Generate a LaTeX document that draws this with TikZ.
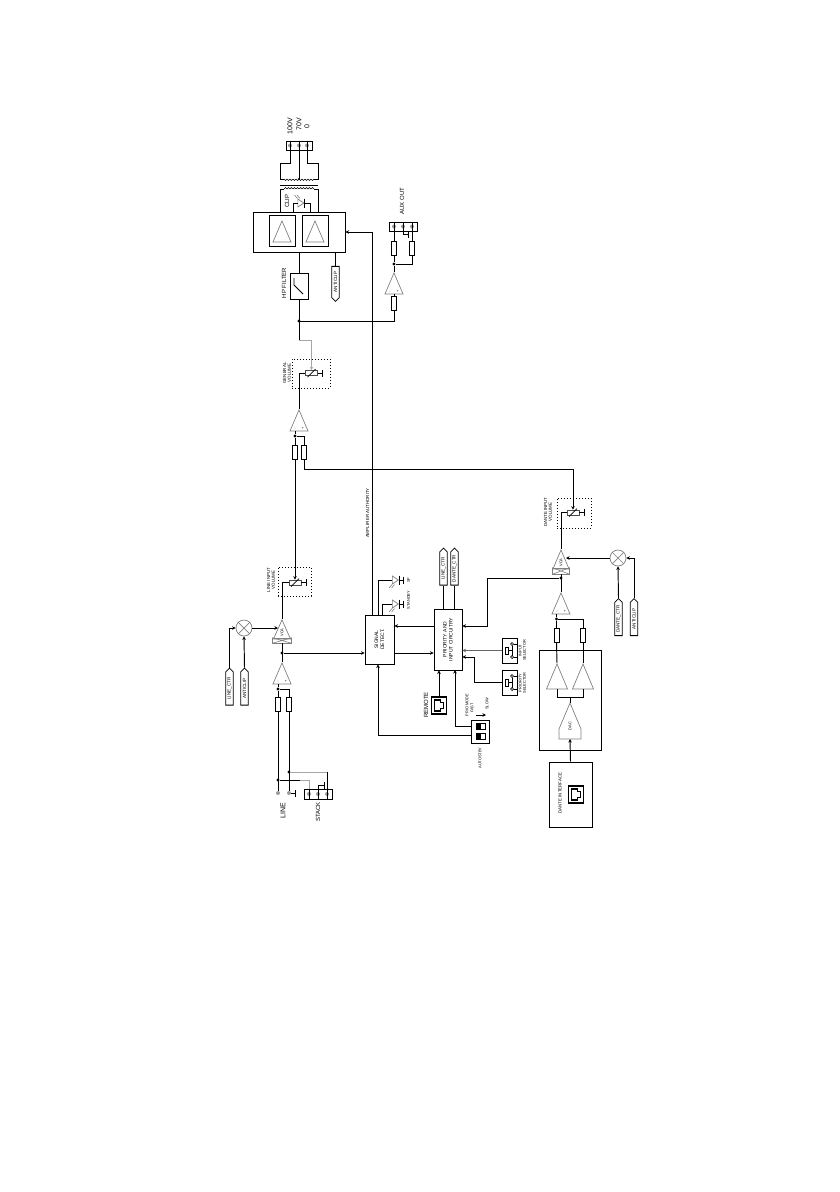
\documentclass[tikz,border=0pt]{standalone}
\usepackage{fontspec}
\setmainfont{Liberation Sans}
\usetikzlibrary{shapes.geometric, shapes.symbols, arrows.meta}
\definecolor{clrAmp}{gray}{0.5}
\definecolor{clrWire}{gray}{0.65}
\tikzset{
  wire/.style = {line width=0.95pt},
  softwire/.style = {line width=0.95pt, color=clrWire},
  arrow/.style = {-{Stealth[length=3.5pt,width=3.5pt]}, line width=0.95pt},
  softarrow/.style = {-{Stealth[length=3.5pt,width=3.5pt]}, line width=0.95pt, draw=black!60},
  gnd/.style = {-{Bar[width=7pt,length=1pt]}, line width=0.95pt},
  box/.style = {rectangle, draw, line width=0.95pt, inner sep=0pt, align=center},
  resistor/.style = {rectangle, draw, line width=0.85pt, fill=white, minimum width=5pt, minimum height=14pt, inner sep=0pt},
  amp/.style = {isosceles triangle, isosceles triangle stretches, shape border rotate=90, anchor=apex,
                minimum width=18pt, minimum height=21pt, inner sep=0pt, draw=clrAmp, line width=0.7pt},
  ledtri/.style = {isosceles triangle, isosceles triangle stretches, minimum width=8pt, minimum height=6pt,
                   inner sep=0pt, draw=clrAmp, line width=0.7pt},
  tagdown/.style = {signal, signal to=west, rotate=90, draw, line width=0.85pt, minimum width=35pt, minimum height=7.5pt,
                    inner sep=0.4pt, font=\fontsize{4.6}{5}\selectfont},
  tagup/.style = {signal, signal to=east, rotate=90, draw, line width=0.85pt, minimum width=37pt, minimum height=7.5pt,
                  inner sep=0.4pt, font=\fontsize{4.6}{5}\selectfont},
  pot/.style = {rectangle, draw=black!70, line width=0.7pt, minimum width=12pt, minimum height=5pt, inner sep=0pt},
  potframe/.style = {rectangle, draw, dotted, line width=1pt, inner sep=0pt},
  dot/.style = {circle, fill, minimum size=3.2pt, inner sep=0pt},
  screw/.style = {circle, fill=black!40, minimum size=4pt, inner sep=0pt},
  ampmark/.style = {font=\fontsize{3.6}{4}\selectfont, inner sep=0pt},
  lblT/.style = {font=\fontsize{3.9}{4.2}\selectfont, rotate=90, align=center, inner sep=0pt},
  lblS/.style = {font=\fontsize{4.4}{4.8}\selectfont, rotate=90, align=center, inner sep=0pt},
  lblB/.style = {font=\fontsize{5}{6}\selectfont, rotate=90, align=center, inner sep=0pt},
  lblM/.style = {font=\fontsize{6}{7}\selectfont, rotate=90, align=center, inner sep=0pt},
  lblL/.style = {font=\fontsize{7}{8}\selectfont, rotate=90, align=center, inner sep=0pt},
}
\begin{document}
\begin{tikzpicture}[x=1pt, y=-1pt]
  \useasboundingbox (0,0) rectangle (840,1192);

  % --- Output transformer ---
  \node[box, minimum width=26pt, minimum height=9pt] at (299,145.5) (TermOut) {};
  \coordinate (TA) at (290,145.5);
  \coordinate (TB) at (299,145.5);
  \coordinate (TC) at (307,145.5);
  \coordinate (SecL) at (280,179);
  \coordinate (SecR) at (318,179);
  \coordinate (PriL) at (280,189);
  \coordinate (PriR) at (318,189);
  \coordinate (CoreL) at (280,185);
  \coordinate (CoreR) at (318,185);
  \foreach \t in {TA,TB,TC} \node[screw] at (\t) (S\t) {};
  \node[lblL] at (290,126) (L100) {100V};
  \node[lblL] at (299,124.5) (L70) {70V};
  \node[lblL] at (307,126.5) (L0) {0};
  \draw[wire] (TA |- TermOut.north) -- ++(0,23) -| (SecL) -- ++(4,0);
  \draw[wire] (TC |- TermOut.north) -- ++(0,23) -| (SecR) -- ++(-4,0);
  \draw[wire] (TB |- TermOut.north) -- (TB |- SecL);
  \node[dot, minimum size=2.4pt] at (TB |- SecL) (JTap) {};
  \foreach \k in {0,...,9} {
    \draw[line width=0.6pt] ({284+3*\k},179) arc[start angle=180, end angle=360, radius=1.5pt];
    \draw[line width=0.6pt] ({284+3*\k},189) arc[start angle=180, end angle=0, radius=1.5pt];
  }
  \draw[wire] (CoreL) -- (CoreR);

  % --- Power amplifier ---
  \node[box, minimum width=92pt, minimum height=40pt] at (299,232) (PowerAmp) {};
  \node[box, minimum width=26pt, minimum height=31pt] at (282,230.5) (PowerL) {};
  \node[box, minimum width=26pt, minimum height=31pt] at (315,230.5) (PowerR) {};
  \node[amp] at (282,220) (TriL) {};
  \node[amp] at (315,220) (TriR) {};
  \draw[wire] (PriL) -- ++(4,0) (PriL) -- (PriL |- PowerAmp.north);
  \draw[wire] (PriR) -- ++(-4,0) (PriR) -- (PriR |- PowerAmp.north);

  % leds
  \foreach \nm/\px/\py/\ry in {LedClip/300/203/-1, LedSP/394.5/580/1, LedStby/394.5/604/1} {
    \node[ledtri] at (\px,\py) (\nm) {};
    \draw[line width=0.9pt] ([yshift=4.5pt] \nm.apex) -- ([yshift=-4.5pt] \nm.apex);
    \draw[draw=clrAmp, line width=0.6pt] (\px,\py+\ry*4.5) -- ++(-3,\ry*3.5);
    \draw[draw=clrAmp, line width=0.6pt] (\px-2.5,\py+\ry*4.5) -- ++(-3,\ry*3.5);
  }
  \node[lblM] at (287,201) (LClip) {CLIP};
  \draw[wire] (LedClip.lower side) -- ++(-4,0) coordinate (ClipL) -- (ClipL |- PowerAmp.north);
  \draw[wire] (LedClip.apex) -- ++(6,0) coordinate (ClipR) -- (ClipR |- PowerAmp.north);

  % --- High pass and anticlip ---
  \node[box, minimum width=18pt, minimum height=26pt] at (299,286) (HPFilter) {};
  \node[lblM] at (284,283) (LHP) {HP FILTER};
  \draw[line width=0.8pt] (294,278) -- (294,285) -- (303,294);
  \node[tagdown] at (335.5,282) (TagClipTop) {ANTICLIP};
  \draw[wire] (PowerAmp.south -| TagClipTop) -- (TagClipTop.east);
  \draw[wire] (PowerAmp.south -| HPFilter) -- (HPFilter.north);
  \coordinate (JHP) at (299,321);
  \coordinate (JGen) at (299,340);
  \node[dot] at (JHP) (DHP) {};
  \draw[wire] (HPFilter.south) -- (JGen);

  % --- Aux output ---
  \node[box, minimum width=28pt, minimum height=9pt] at (403,226.5) (TermAux) {};
  \coordinate (XA) at (394,226.5);
  \coordinate (XB) at (403,226.5);
  \coordinate (XC) at (412,226.5);
  \foreach \t in {XA,XB,XC} \node[screw] at (\t) (S\t) {};
  \node[lblM] at (402,201) (LAux) {AUX OUT};
  \node[resistor] at (394,248.5) (ResAuxA) {};
  \node[resistor] at (412,248.5) (ResAuxB) {};
  \node[resistor] at (394,303.5) (ResAuxIn) {};
  \node[amp] at (394,272) (AmpAux) {};
  \node[dot] at (394,264) (JAux) {};
  \draw[wire] (XA |- TermAux.north) -- (ResAuxA.north);
  \draw[wire] (XC |- TermAux.north) -- (ResAuxB.north);
  \draw[gnd] (XB |- TermAux.north) -- ++(0,12.5) -- ++(6,0);
  \draw[wire] (ResAuxA.south) -- (JAux) -- (AmpAux.apex);
  \draw[wire] (ResAuxB.south) |- (JAux);
  \draw[wire] (AmpAux.lower side) -- (ResAuxIn.north);
  \draw[wire] (ResAuxIn.south) |- (JHP);

  % --- General volume ---
  \node[potframe, minimum width=38pt, minimum height=29pt] at (311,373.5) (FrameGen) {};
  \node[lblS] at (287,373) (LGen) {GENERAL\\VOLUME};
  \node[potframe, minimum width=33pt, minimum height=29pt] at (294.5,581.5) (FrameLine) {};
  \node[lblS] at (271,580) (LLine) {LINE INPUT\\VOLUME};
  \node[potframe, minimum width=34pt, minimum height=30pt] at (574,513) (FrameDante) {};
  \node[lblS] at (548,512) (LDante) {DANTE INPUT\\VOLUME};
  \foreach \nm/\px/\py in {PotGen/311.5/373, PotLine/295/582.5, PotDante/573/512.5} {
    \node[pot] at (\px,\py) (\nm) {};
    \draw[line width=0.7pt] (\px-4,\py+4) -- (\px+4,\py-4);
    \draw[gnd] (\nm.east) -- ++(5.5,0);
  }
  \draw[softwire] (JGen) -- (311.5,340) coordinate (JGenB);
  \draw[arrow, draw=clrWire] (JGenB) -- (PotGen.north);
  \node[amp] at (299,409) (AmpSum) {};
  \draw[wire] (PotGen.west) -| (AmpSum.apex);

  % --- Summing inputs ---
  \node[dot] at (295,436) (JSum) {};
  \coordinate (JSumB) at (304,436);
  \node[resistor] at (295,452.5) (ResSumA) {};
  \node[resistor] at (304,452.5) (ResSumB) {};
  \draw[wire] (JSum |- AmpSum.lower side) -- (JSum) -- (JSumB) -- (ResSumB.north);
  \draw[wire] (JSum) -- (ResSumA.north);
  \draw[arrow] (ResSumA.south) -- (PotLine.north);
  \draw[wire] (ResSumB.south) -- (304,469) -- (573,469) coordinate (JDanteTop);
  \draw[arrow] (JDanteTop) -- (PotDante.north);

  % --- Line input ---
  \node[amp, minimum width=17pt, minimum height=19pt] at (282,619) (VcaLine) {};
  \node[rectangle, draw=clrAmp, line width=0.7pt, minimum width=19pt, minimum height=5pt, inner sep=0pt] at (282,640.5) (VcaLineX) {};
  \draw[draw=clrAmp, line width=0.6pt] (VcaLineX.north west) -- (VcaLineX.south east) (VcaLineX.north east) -- (VcaLineX.south west);
  \node[lblT] at (282,632.5) (LVcaLine) {VCA};
  \draw[wire] (PotLine.west) -| (VcaLine.apex);
  \node[circle, draw=clrAmp, line width=0.7pt, minimum size=16pt, inner sep=0pt] at (244,628) (MixLine) {};
  \draw[draw=clrAmp, line width=0.7pt] (MixLine.north west) -- (MixLine.south east) (MixLine.north east) -- (MixLine.south west);
  \draw[arrow] (MixLine.east) -- (278,628);
  \node[tagup] at (229.5,688.5) (TagLineCtr) {LINE\_CTR};
  \node[tagup] at (244.5,688.5) (TagClipLine) {ANTICLIP};
  \draw[arrow] (TagLineCtr.east) |- (MixLine.west);
  \draw[arrow] (TagClipLine.east) -- (MixLine.south);
  \node[dot] at (282,653) (JLine) {};
  \node[amp] at (282,662) (AmpLine) {};
  \draw[wire] (VcaLineX.south) -- (AmpLine.apex);
  \node[dot] at (278,689) (JLineIn) {};
  \node[resistor] at (278,704) (ResLineA) {};
  \node[resistor] at (289,704) (ResLineB) {};
  \draw[wire] (JLineIn |- AmpLine.lower side) -- (JLineIn) -- (JLineIn -| ResLineB) -- (ResLineB.north);
  \draw[wire] (JLineIn) -- (ResLineA.north);

  % --- Line and stack terminals ---
  \node[box, minimum width=28pt, minimum height=10pt] at (318,794) (TermStack) {};
  \coordinate (KA) at (309,794);
  \coordinate (KB) at (318,794);
  \coordinate (KC) at (327,794);
  \foreach \t in {KA,KB,KC} \node[screw] at (\t) (S\t) {};
  \node[screw] at (278,793) (TermLineA) {};
  \node[screw] at (289,793) (TermLineB) {};
  \draw[wire] (ResLineA.south) -- (TermLineA);
  \draw[wire] (ResLineB.south) -- (TermLineB);
  \draw[gnd] (TermLineB) -- ++(7,0);
  \node[lblL] at (283,811) (LLineIn) {LINE};
  \node[lblM] at (318,812) (LStack) {STACK};
  \node[dot] at (278,780) (JStackA) {};
  \node[dot] at (289,772) (JStackB) {};
  \draw[wire] (JStackA) -- (300,780);
  \draw[softwire] (300,780) -| (KA);
  \draw[softwire] (JStackB) -- (JStackB -| KC);
  \draw[wire] (JStackB -| KC) -- (KC |- TermStack.south);
  \draw[wire] (KA |- TermStack.north) -- (KA |- TermStack.south);
  \draw[gnd] (KB |- TermStack.south) -- (KB |- 0,785) -- ++(7,0);

  % --- Signal detect ---
  \node[box, minimum width=29pt, minimum height=49pt] at (379.5,639.5) (Detect) {};
  \node[lblB] at (Detect) (LDetect) {SIGNAL\\DETECT.};
  \node[lblS] at (367.5,513) (LAuth) {AMPLIFIER AUTHORITY};
  \draw[arrow] (JLine) -- (Detect.west |- JLine);
  \draw[arrow] (372,615) -- (372,232) -- (PowerAmp.east |- 0,232);
  \draw[wire] (378,615) -- (378,580) -- (LedSP.lower side);
  \draw[wire] (382,615) -- (382,604) -- (LedStby.lower side);
  \draw[gnd] (LedSP.apex) -- (404,580);
  \draw[gnd] (LedStby.apex) -- (404,604);
  \node[lblT] at (408.5,580) (LSP) {SP};
  \node[lblT] at (408.5,600) (LStby) {STANDBY};

  % --- Priority block ---
  \node[box, minimum width=28pt, minimum height=61pt] at (448,639.5) (Priority) {};
  \node[lblB] at (Priority) (LPriority) {PRIORITY AND\\INPUT CIRCUITRY};
  \node[tagup] at (443.5,568.5) (TagLineOut) {LINE\_CTR};
  \node[tagup] at (454.5,568.5) (TagDanteOut) {DANTE\_CTR};
  \draw[wire] (Priority.north -| TagLineOut) -- (TagLineOut.west);
  \draw[wire] (Priority.north -| TagDanteOut) -- (TagDanteOut.west);
  \draw[arrow] (Priority.west |- 0,626) -- (Detect.east |- 0,626);
  \draw[arrow] (Detect.east |- 0,653) -- (Priority.west |- 0,653);

  % --- Selectors ---
  \foreach \nm/\py in {SelInput/650.5, SelPrio/682.5} {
    \node[box, minimum width=15pt, minimum height=25pt] at (509.5,\py) (\nm) {};
    \draw[line width=0.8pt] (505,\py-3.5) rectangle (508,\py+3.5);
    \draw[line width=0.7pt] (508,\py) -- (512,\py) (512,\py-5) -- (512,\py+5);
    \draw[line width=0.7pt, fill=white] (512,\py-6.5) circle[radius=1.5pt];
    \draw[line width=0.7pt, fill=white] (512,\py+6.5) circle[radius=1.5pt];
    \draw[line width=0.7pt] (513.5,\py-6.5) -- (517,\py-6.5) (513.5,\py+6.5) -- (517,\py+6.5);
  }
  \node[lblT] at (522.5,650.5) (LSelInput) {INPUT\\SELECTOR};
  \node[lblT] at (522.5,683) (LSelPrio) {PRIORITY\\SELECTOR};
  \draw[softarrow] (SelInput.west) -- (Priority.east |- SelInput);
  \draw[arrow] (SelPrio.west) -- (474,682.5) -- (474,657) -- (Priority.east |- 0,657);

  % --- Remote and dante sockets ---
  \foreach \nm/\px/\py in {Remote/439/705.5, DanteJack/576/794.5} {
    \node[box, line width=1.7pt, minimum width=15pt, minimum height=17pt] at (\px,\py) (\nm) {};
    \draw[line width=1.2pt] (\px-4.5,\py-5.5) -- (\px+1.5,\py-5.5) -- (\px+1.5,\py-3) -- (\px+4.5,\py-3) -- (\px+4.5,\py+3) -- (\px+1.5,\py+3) -- (\px+1.5,\py+5.5) -- (\px-4.5,\py+5.5) -- cycle;
  }
  \node[lblM] at (426,705) (LRemote) {REMOTE};
  \draw[arrow] (Remote.north) -- (Priority.south -| Remote);

  % --- Autostandby switch ---
  \node[box, minimum width=18pt, minimum height=23pt] at (480,731.5) (Dip) {};
  \foreach \py in {726, 736} {
    \draw[line width=0.8pt] (476,\py-3) rectangle (485,\py+3);
    \fill (476,\py-3) rectangle (480.5,\py+3);
  }
  \draw[arrow] (Dip.west |- 0,726) -- (455,726) -- (455,670);
  \draw[arrow] (Dip.west |- 0,735) -- (378,735) -- (Detect.south -| 378,0);
  \node[lblT] at (467,705) (LPrioMode) {PRIO MODE};
  \node[lblT] at (472,708) (LFast) {FAST};
  \node[lblT] at (487,704) (LSlow) {SLOW};
  \coordinate (SwA) at (476,715);
  \coordinate (SwB) at (486,715);
  \draw[arrow, line width=0.7pt] (SwA) -- (SwB);
  \node[lblT] at (480,758) (LAuto) {AUTOSTBY};

  % --- Dante chain ---
  \draw[wire] (PotDante.west) -- (561,512.5) coordinate (DanteDown);
  \node[amp, minimum width=16pt, minimum height=19pt] at (561,549) (VcaDante) {};
  \node[rectangle, draw=clrAmp, line width=0.7pt, minimum width=17pt, minimum height=6pt, inner sep=0pt] at (561,571) (VcaDanteX) {};
  \draw[draw=clrAmp, line width=0.6pt] (VcaDanteX.north west) -- (VcaDanteX.south east) (VcaDanteX.north east) -- (VcaDanteX.south west);
  \node[lblT] at (561,562.5) (LVcaDante) {VCA};
  \draw[wire] (DanteDown) -- (VcaDante.apex);
  \node[circle, draw=clrAmp, line width=0.7pt, minimum size=16pt, inner sep=0pt] at (618,558) (MixDante) {};
  \draw[draw=clrAmp, line width=0.7pt] (MixDante.north west) -- (MixDante.south east) (MixDante.north east) -- (MixDante.south west);
  \draw[arrow] (MixDante.west) -- (566,558);
  \node[tagup] at (618.5,619) (TagDanteCtr) {DANTE\_CTR};
  \node[tagup] at (634,619) (TagClipDante) {ANTICLIP};
  \draw[arrow] (TagDanteCtr.east) -- (MixDante.south);
  \draw[arrow] (TagClipDante.east) |- (MixDante.east);
  \node[dot] at (561,578) (JDante) {};
  \node[amp] at (561,592) (AmpDante) {};
  \draw[wire] (VcaDanteX.south) -- (AmpDante.apex);
  \draw[arrow] (JDante) -- (487,578) -- (487,626) -- (Priority.east |- 0,626);
  \node[dot] at (556.5,619) (JDanteIn) {};
  \node[resistor] at (556.5,635) (ResDanteA) {};
  \node[resistor] at (583,635) (ResDanteB) {};
  \draw[wire] (JDanteIn |- AmpDante.lower side) -- (JDanteIn) -- (JDanteIn -| ResDanteB) -- (ResDanteB.north);
  \draw[wire] (JDanteIn) -- (ResDanteA.north);

  % input marks on the small amps
  \foreach \nm in {AmpSum, AmpAux, AmpLine, AmpDante} {
    \node[ampmark] at ([shift={(-4,-2.5)}] \nm.lower side) (\nm Minus) {-};
    \node[ampmark] at ([shift={(4,-2.5)}] \nm.lower side) (\nm Plus) {+};
  }

  % --- Dac block ---
  \node[box, minimum width=62pt, minimum height=100pt] at (570,700) (DacBlock) {};
  \node[amp, minimum width=21pt, minimum height=25pt] at (557,663) (BufA) {};
  \node[amp, minimum width=21pt, minimum height=25pt] at (583,663) (BufB) {};
  \draw[wire] (ResDanteA.south) -- (BufA.apex);
  \draw[wire] (ResDanteB.south) -- (BufB.apex);
  \coordinate (BufJoin) at (570,697);
  \draw[wire] (BufA.lower side) |- (BufJoin) -| (BufB.lower side);
  \coordinate (DacTop) at (570,703);
  \coordinate (DacFoot) at (570,739);
  \draw[draw=clrAmp, line width=0.7pt] (DacTop) -- (581,729) -- (581,739) -- (559,739) -- (559,729) -- cycle;
  \node[lblT] at (570,726) (LDac) {DAC};
  \draw[wire] (BufJoin) -- (DacTop);
  \node[box, minimum width=43pt, minimum height=65pt] at (570.5,794.5) (DanteIf) {};
  \node[lblS] at (560,793) (LDanteIf) {DANTE INTERFACE};
  \draw[arrow] (DanteIf.north) -- (DacFoot);
\end{tikzpicture}
\end{document}
